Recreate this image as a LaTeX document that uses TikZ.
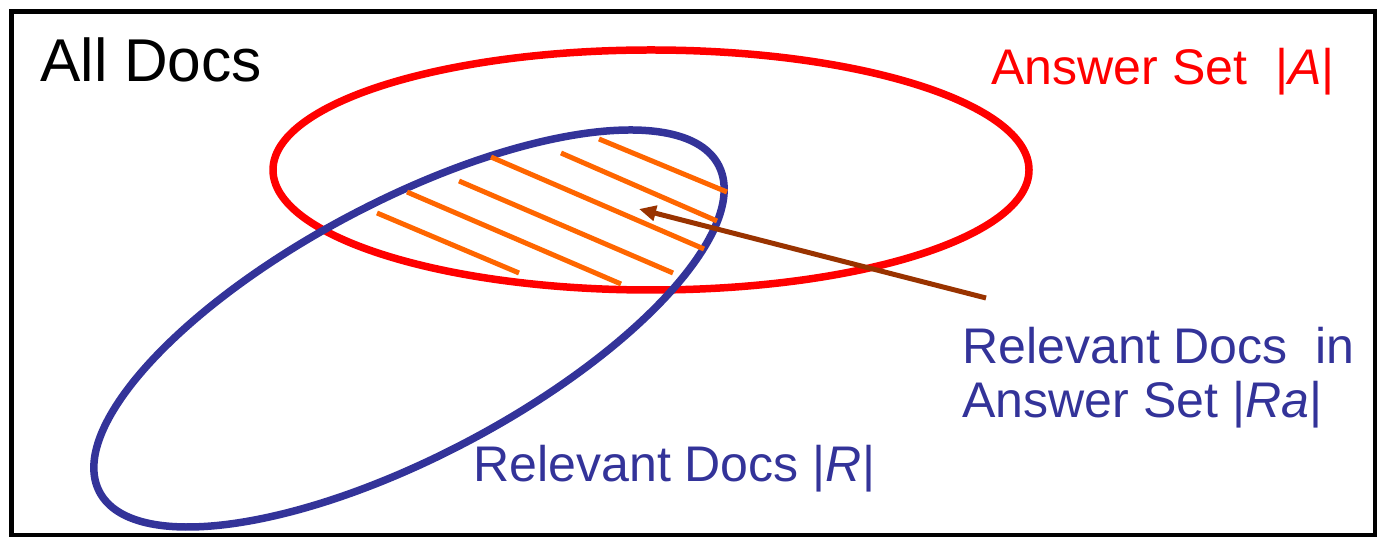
\documentclass[tikz,border=0pt]{standalone}
\usepackage{fontspec}
\setmainfont{Liberation Sans}
\usetikzlibrary{arrows.meta}
\definecolor{AnsRed}{RGB}{255,0,0}
\definecolor{RelBlue}{RGB}{51,51,153}
\definecolor{HatchOrange}{RGB}{255,102,0}
\definecolor{PtrBrown}{RGB}{153,51,0}
\tikzset{
  docframe/.style={draw=black,line width=0.09cm},
  answer/.style={draw=AnsRed,line width=0.15cm},
  relevant/.style={draw=RelBlue,line width=0.15cm},
  hatch/.style={draw=HatchOrange,line width=0.1cm},
  pointer/.style={draw=PtrBrown,line width=0.1cm,-{Triangle[length=0.34cm,width=0.3cm]}},
}
\tikzset{lab/.style={inner sep=0pt,anchor=base west,font=\fontsize{28.5}{31.3}\selectfont},title/.style={inner sep=0pt,anchor=base west,font=\fontsize{34.4}{38}\selectfont}}

\begin{document}
\begin{tikzpicture}[x=0.02cm,y=0.02cm]
\useasboundingbox (0,0) rectangle (1378,537);
\draw[docframe] (11.5,525.5) rectangle (1375,1.5);
\coordinate (A) at (651,367);
\coordinate (R) at (409,208.5);
\draw[answer] (A) ellipse [x radius=378, y radius=120];
\draw[relevant, rotate around={27.85:(R)}] (R) ellipse [x radius=350, y radius=127.3];
% overlap hatching
\draw[hatch] (377,324) -- (519,264);
\draw[hatch] (407,345) -- (621,253);
\draw[hatch] (459,356) -- (673,264);
\draw[hatch] (491,380) -- (704,288);
\draw[hatch] (561,384) -- (717,316);
\draw[hatch] (599,398) -- (727,345);
\node[title] (all) at (40,455) {All Docs};
\node[lab,text=AnsRed] (ans) at (991,452) {Answer Set~~|\textit{A}|};
\node[lab,text=RelBlue,align=left] (ra) at (962,119) {Relevant Docs~~in\\Answer Set |\textit{Ra}|};
\node[lab,text=RelBlue] (rel) at (473,55) {Relevant Docs |\textit{R}|};
\coordinate (ra tail) at (986,239);
\coordinate (ra tip) at (639,328);
\draw[pointer] (ra tail) -- (ra tip);
\end{tikzpicture}
\end{document}
